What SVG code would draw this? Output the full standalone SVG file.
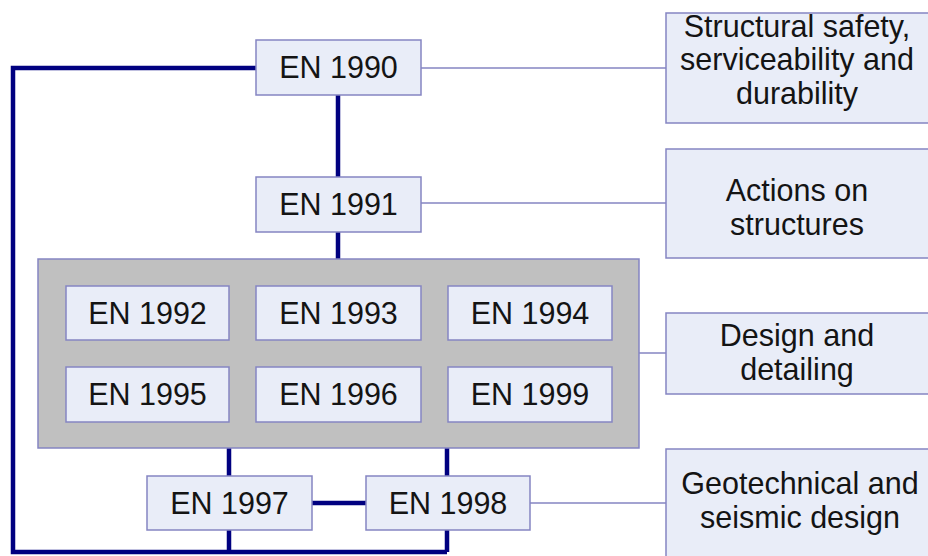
<svg xmlns="http://www.w3.org/2000/svg" width="928" height="556" viewBox="0 0 928 556">
<style>
.bx{fill:#e9edf8;stroke:#8585c2;stroke-width:1.5}
.grp{fill:#c0c0c0;stroke:#8585c2;stroke-width:1.5}
.t{font-family:"Liberation Sans",Arial,sans-serif;font-size:30.5px;fill:#141414;text-anchor:middle}
.thick{stroke:#000080;stroke-width:4.5;fill:none}
.thin{stroke:#8585c2;stroke-width:1.5;fill:none}
</style>
<rect width="928" height="556" fill="#ffffff"/>
<g id="connectors">
<path class="thick" d="M256,68 H13 V552 H447"/>
<path class="thick" d="M338,95 V177 M338,232 V259"/>
<path class="thick" d="M229,448 V476 M229,530 V552 M447,448 V476 M447,530 V552"/>
<path class="thick" d="M312,503 H366"/>
<path class="thin" d="M421,68 H666 M421,203 H666 M639,353 H666 M530,503 H666"/>
</g>
<g id="group-1992-1999"><rect class="grp" x="38" y="259" width="601" height="189"/></g>
<g id="en1990"><rect class="bx" x="256" y="40" width="165" height="55"/><text class="t" x="338.5" y="78">EN 1990</text></g>
<g id="en1991"><rect class="bx" x="256" y="177" width="165" height="55"/><text class="t" x="338.5" y="215">EN 1991</text></g>
<g id="en1992"><rect class="bx" x="66" y="286" width="163" height="54"/><text class="t" x="147.5" y="323.5">EN 1992</text></g>
<g id="en1993"><rect class="bx" x="256" y="286" width="165" height="54"/><text class="t" x="338.5" y="323.5">EN 1993</text></g>
<g id="en1994"><rect class="bx" x="448" y="286" width="164" height="54"/><text class="t" x="530" y="323.5">EN 1994</text></g>
<g id="en1995"><rect class="bx" x="66" y="367" width="163" height="55"/><text class="t" x="147.5" y="405">EN 1995</text></g>
<g id="en1996"><rect class="bx" x="256" y="367" width="165" height="55"/><text class="t" x="338.5" y="405">EN 1996</text></g>
<g id="en1999"><rect class="bx" x="448" y="367" width="164" height="55"/><text class="t" x="530" y="405">EN 1999</text></g>
<g id="en1997"><rect class="bx" x="147" y="476" width="165" height="54"/><text class="t" x="229.5" y="513.5">EN 1997</text></g>
<g id="en1998"><rect class="bx" x="366" y="476" width="164" height="54"/><text class="t" x="448" y="513.5">EN 1998</text></g>
<g id="safety"><rect class="bx" x="666" y="13" width="266" height="110"/><text class="t" x="797" y="37">Structural safety,</text><text class="t" x="797" y="70">serviceability and</text><text class="t" x="797" y="104">durability</text></g>
<g id="actions"><rect class="bx" x="666" y="149" width="266" height="109"/><text class="t" x="797" y="201">Actions on</text><text class="t" x="797" y="235">structures</text></g>
<g id="design"><rect class="bx" x="666" y="313" width="266" height="81"/><text class="t" x="797" y="346">Design and</text><text class="t" x="797" y="380">detailing</text></g>
<g id="geo"><rect class="bx" x="666" y="449" width="266" height="120"/><text class="t" x="800" y="494">Geotechnical and</text><text class="t" x="800" y="528">seismic design</text></g>
</svg>
